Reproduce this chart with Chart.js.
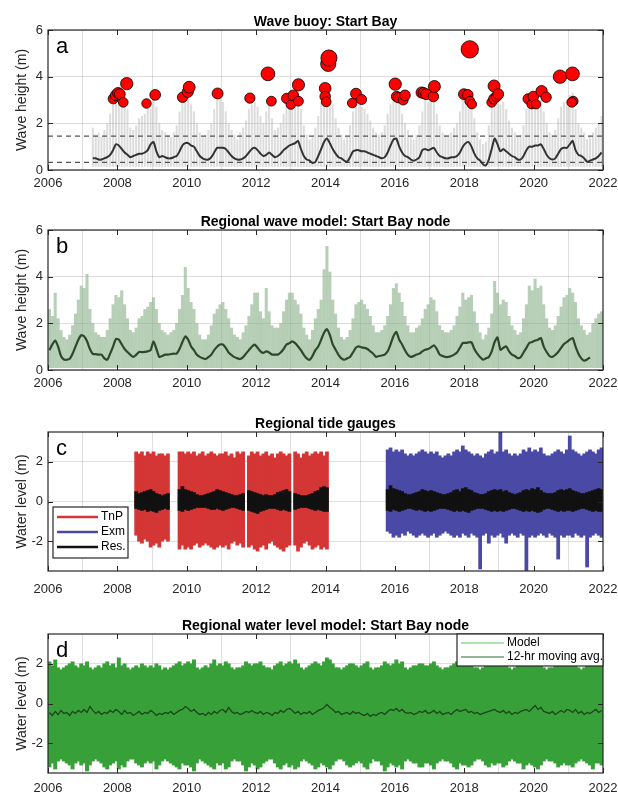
<!DOCTYPE html>
<html>
<head>
<meta charset="utf-8">
<script src="https://cdn.jsdelivr.net/npm/chart.js@4.4.1/dist/chart.umd.min.js"></script>
<style>
  body { margin: 0; background: #fff; width: 618px; height: 794px; position: relative; overflow: hidden; }
  canvas { position: absolute; left: 0; }
</style>
</head>
<body>
<canvas id="pa" width="618" height="195" style="top:0px"></canvas>
<canvas id="pb" width="618" height="195" style="top:200px"></canvas>
<canvas id="pc" width="618" height="200" style="top:400px"></canvas>
<canvas id="pd" width="618" height="194" style="top:600px"></canvas>
<script>
// tick labels
const yearTicks = [2006, 2008, 2010, 2012, 2014, 2016, 2018, 2020, 2022];
const waveTicks = [0, 2, 4, 6];
const levelTicks = [-2, 0, 2];

// ---- a: wave buoy (monthly, from Apr 2007) ----
const buoyStart = 2007 + 3 / 12;
const buoyFloor = 0.15;
const buoyMax = [
  1.8,1.5,1.6,1.4,1.7,2.0,2.4,2.8,3.1,
  3.2,2.9,3.0,2.6,1.8,1.7,1.9,2.2,2.3,2.4,2.7,2.6,
  3.1,2.7,2.0,1.7,1.6,1.5,1.4,1.6,1.9,2.5,2.9,3.2,
  3.4,2.8,2.5,2.0,1.6,1.4,1.5,1.7,2.0,2.6,3.0,3.2,
  2.9,2.5,2.0,1.7,1.5,1.3,1.6,1.8,2.1,2.6,2.8,2.9,
  2.7,2.3,2.0,2.5,2.8,2.2,1.7,1.8,2.0,2.4,2.9,3.0,
  3.0,3.2,3.4,2.6,1.9,1.5,1.3,1.4,1.8,2.3,2.9,3.3,
  3.4,3.3,2.8,2.2,1.8,1.5,1.3,1.4,1.9,2.5,2.8,2.8,
  2.7,2.6,2.4,2.1,1.8,1.6,1.5,1.6,1.9,2.4,2.8,3.2,
  3.3,2.9,2.4,2.0,1.7,1.4,1.3,1.5,1.9,2.5,3.0,2.9,
  3.1,3.0,2.4,1.9,1.6,1.5,1.5,1.6,1.8,2.0,2.5,3.0,
  3.2,3.3,2.9,2.2,1.6,1.3,1.1,1.2,1.9,2.7,3.2,3.1,
  2.8,2.9,2.6,2.1,1.8,1.6,1.4,1.5,1.9,2.6,2.9,3.0,
  3.1,3.2,3.0,2.5,2.0,1.6,1.5,1.7,2.2,2.7,2.9,3.0,
  3.2,3.3,2.6,2.0,1.8,1.6,1.3,1.4,1.6,1.8,2.0,2.3
];
const buoyAvg = [
  0.5,0.5,0.45,0.45,0.5,0.55,0.65,0.85,1.1,
  1.05,0.9,0.75,0.65,0.55,0.6,0.65,0.7,0.7,0.75,0.85,1.1,
  1.2,0.8,0.55,0.6,0.55,0.5,0.5,0.55,0.6,0.8,1.05,1.15,
  1.15,1.05,1.0,0.8,0.6,0.5,0.45,0.45,0.55,0.75,0.95,0.95,
  0.95,0.9,0.75,0.6,0.5,0.45,0.45,0.5,0.6,0.75,0.9,0.95,
  0.85,0.7,0.6,0.65,0.75,0.65,0.55,0.6,0.7,0.85,0.95,1.05,
  1.1,1.15,1.25,0.9,0.6,0.45,0.4,0.3,0.35,0.6,0.9,1.2,
  1.35,1.15,0.9,0.7,0.55,0.5,0.4,0.35,0.55,0.8,0.85,0.85,
  0.8,0.8,0.75,0.7,0.65,0.6,0.55,0.5,0.55,0.75,1.05,1.3,
  1.35,1.0,0.75,0.6,0.55,0.45,0.4,0.45,0.55,0.85,0.9,0.85,
  0.9,0.95,0.75,0.6,0.55,0.5,0.5,0.55,0.55,0.6,0.75,1.0,
  1.15,1.2,1.0,0.7,0.5,0.4,0.25,0.2,0.45,0.9,1.35,1.1,
  0.8,0.9,0.8,0.7,0.6,0.55,0.45,0.45,0.6,0.85,1.0,1.0,
  1.05,1.05,1.1,0.9,0.65,0.5,0.45,0.5,0.7,0.9,0.95,0.95,
  1.1,1.25,0.85,0.65,0.6,0.5,0.35,0.4,0.45,0.5,0.6,0.75
];
const buoyLimits = [1.45, 0.33];
const stormYear = [2007.88,2007.95,2008.02,2008.07,2008.17,2008.27,2008.84,2009.09,2009.88,2010.03,
  2010.07,2010.89,2011.82,2012.34,2012.44,2012.88,2013.00,2013.07,2013.22,2013.22,
  2013.99,2013.99,2014.02,2014.08,2014.10,2014.77,2014.88,2015.04,2016.01,2016.05,
  2016.10,2016.24,2016.29,2016.77,2016.83,2016.90,2017.11,2017.14,2017.99,2018.10,
  2018.16,2018.22,2018.16,2018.79,2018.85,2018.86,2018.93,2018.98,2019.84,2019.94,
  2019.99,2020.07,2020.23,2020.36,2020.76,2021.12,2021.14,2021.10];
const stormHs = [3.05,3.2,3.3,3.25,2.9,3.7,2.85,3.22,3.12,3.35,
  3.55,3.28,3.08,4.12,2.95,3.07,2.8,3.2,3.65,2.95,
  3.5,3.15,2.92,4.55,4.8,2.87,3.27,3.02,3.68,3.15,
  3.1,3.0,3.2,3.32,3.3,3.25,3.15,3.58,3.25,3.22,
  2.95,2.82,5.17,2.9,3.05,3.6,3.15,3.25,3.05,2.82,
  3.15,2.82,3.38,3.12,4.0,4.12,2.95,2.9];

// ---- b: regional wave model (monthly, from Jan 2006) ----
const modelStart = 2006;
const waveFloor = 0.1;
const waveMax = [
  2.6,2.3,3.3,2.2,1.7,1.4,1.3,1.5,1.9,2.4,3.0,3.6,
  3.5,4.1,2.6,2.0,1.6,1.5,1.4,1.4,1.7,2.2,2.8,3.2,
  3.1,3.4,2.8,2.2,1.7,1.6,1.8,2.2,2.3,2.6,2.7,2.9,
  3.1,2.6,2.0,1.7,1.6,1.5,1.6,1.7,2.0,2.6,3.2,4.4,
  3.5,2.9,2.6,2.0,1.5,1.3,1.3,1.5,1.9,2.4,2.6,2.8,
  2.9,2.6,2.2,1.8,1.5,1.4,1.3,1.6,1.9,2.3,2.8,3.3,
  3.3,2.5,2.2,3.5,2.5,1.9,1.8,1.8,2.0,2.5,3.0,3.3,
  3.3,3.0,2.8,2.4,1.8,1.5,1.3,1.7,2.2,2.6,3.0,4.3,
  5.3,4.2,3.0,2.4,1.8,1.4,1.3,1.4,1.7,2.2,2.8,2.9,
  3.0,2.8,2.6,2.3,1.9,1.6,1.6,1.7,1.9,2.3,2.8,3.5,
  3.7,3.3,2.9,2.3,1.9,1.6,1.6,1.8,1.9,2.2,2.6,2.8,
  3.1,3.0,2.5,1.9,1.7,1.6,1.6,1.7,1.9,2.3,2.7,3.3,
  3.0,3.1,3.2,2.5,2.0,1.6,1.3,1.5,1.8,2.4,3.8,3.3,
  2.8,3.0,2.9,2.3,1.9,1.7,1.5,1.6,2.2,2.8,3.6,3.4,
  3.9,3.5,3.6,2.8,2.2,1.8,1.7,1.9,2.3,2.7,3.1,3.2,
  3.5,3.3,2.9,2.2,1.9,1.7,1.5,1.6,2.0,2.2,2.4,2.5
];
const waveAvg = [
  0.85,1.1,1.26,1.0,0.6,0.45,0.44,0.48,0.7,1.0,1.3,1.49,
  1.45,1.23,0.9,0.69,0.68,0.66,0.66,0.5,0.44,0.7,1.0,1.33,
  1.3,1.1,0.9,0.77,0.65,0.56,0.65,0.77,0.77,0.78,0.8,0.85,
  1.23,0.9,0.56,0.6,0.66,0.66,0.68,0.7,0.7,0.9,1.2,1.44,
  1.3,1.01,0.85,0.65,0.56,0.5,0.47,0.55,0.66,0.85,1.0,1.09,
  1.09,0.95,0.75,0.64,0.55,0.5,0.47,0.55,0.7,0.85,1.0,1.09,
  0.95,0.8,0.73,0.8,0.75,0.66,0.66,0.66,0.75,0.9,1.09,1.15,
  1.23,1.15,1.01,0.85,0.65,0.5,0.44,0.6,0.85,1.01,1.3,1.6,
  1.75,1.5,1.1,0.87,0.65,0.5,0.44,0.5,0.56,0.75,0.95,1.01,
  0.97,0.95,0.9,0.8,0.7,0.56,0.6,0.62,0.66,0.8,1.1,1.45,
  1.63,1.3,1.09,0.85,0.65,0.56,0.6,0.66,0.7,0.8,0.87,0.9,
  0.97,1.06,0.9,0.66,0.6,0.56,0.56,0.6,0.66,0.75,0.95,1.16,
  1.16,1.18,1.19,0.9,0.7,0.55,0.44,0.5,0.56,0.8,1.2,1.4,
  0.87,0.95,1.01,0.8,0.66,0.6,0.51,0.55,0.75,0.95,1.16,1.2,
  1.26,1.3,1.37,1.0,0.77,0.6,0.56,0.65,0.77,0.95,1.11,1.2,
  1.3,1.37,1.0,0.7,0.5,0.4,0.45,0.54
];

// ---- c: tide gauges (monthly) ----
const tnpStart = 2008 + 6 / 12;   // Jul 2008
const tnpHi = [
  2.5,2.4,2.5,2.3,2.5,2.4,
  2.5,2.3,2.4,2.4,2.3,2.4,null,null,null,2.5,2.5,2.4,
  2.5,2.4,2.5,2.3,2.4,2.5,2.3,2.4,2.5,2.4,2.3,2.4,
  2.4,2.5,2.3,2.4,2.2,2.5,2.4,2.5,null,2.3,2.5,2.4,
  2.5,2.3,2.4,2.5,2.3,2.4,2.2,2.4,2.5,2.4,2.3,2.4,
  null,2.5,2.4,2.2,2.4,2.5,2.3,2.4,2.5,2.4,2.5,2.3,
  2.5
];
const tnpLo = [
  -1.7,-2.0,-2.1,-1.9,-2.0,-2.3,
  -2.2,-2.1,-2.3,-2.0,-1.9,-2.0,null,null,null,-2.4,-2.2,-2.4,
  -2.3,-2.4,-2.2,-2.1,-2.3,-2.2,-2.1,-2.2,-2.3,-2.4,-2.3,-2.2,
  -2.3,-2.2,-2.4,-2.1,-2.0,-2.2,-2.1,-2.3,null,-2.3,-2.2,-2.4,
  -2.5,-2.3,-2.2,-2.4,-2.1,-2.0,-2.2,-2.3,-2.4,-2.5,-2.3,-2.2,
  null,-2.2,-2.5,-2.3,-2.1,-2.0,-2.2,-2.4,-2.3,-2.2,-2.4,-2.3,
  -2.4
];
const tnpResHi = [
  0.5,0.4,0.45,0.5,0.55,0.6,
  0.5,0.4,0.35,0.3,0.35,0.4,null,null,null,0.6,0.75,0.6,
  0.55,0.5,0.45,0.35,0.3,0.3,0.35,0.4,0.45,0.5,0.6,0.55,
  0.5,0.45,0.4,0.35,0.3,0.3,0.35,0.4,null,0.55,0.5,0.45,
  0.4,0.35,0.3,0.35,0.3,0.3,0.35,0.45,0.5,0.55,0.6,0.5,
  null,0.4,0.35,0.3,0.3,0.3,0.35,0.4,0.5,0.55,0.7,0.75,
  0.7
];
const tnpResLo = [
  -0.35,-0.4,-0.45,-0.4,-0.5,-0.45,
  -0.5,-0.55,-0.45,-0.4,-0.35,-0.4,null,null,null,-0.45,-0.5,-0.4,
  -0.45,-0.4,-0.35,-0.3,-0.3,-0.3,-0.3,-0.35,-0.4,-0.4,-0.35,-0.4,
  -0.45,-0.4,-0.35,-0.3,-0.3,-0.35,-0.4,-0.45,null,-0.45,-0.5,-0.55,
  -0.6,-0.5,-0.45,-0.4,-0.35,-0.35,-0.35,-0.4,-0.45,-0.4,-0.45,-0.5,
  null,-0.4,-0.35,-0.3,-0.3,-0.3,-0.35,-0.4,-0.45,-0.4,-0.45,-0.5,
  -0.5
];
const exmStart = 2015 + 9 / 12;   // Oct 2015
const exmHi = [
  2.6,2.7,2.5,
  2.6,2.5,2.6,2.4,2.3,2.4,2.3,2.4,2.5,2.6,2.5,2.4,
  2.5,2.4,2.5,2.3,2.2,2.3,2.4,2.3,2.5,2.6,2.5,2.8,
  2.6,2.5,2.4,2.3,2.4,2.3,2.2,2.4,2.5,2.6,2.4,2.5,
  3.5,2.5,2.6,2.4,2.3,2.4,2.3,2.4,2.6,2.5,2.7,2.5,
  2.6,2.5,2.7,2.4,2.3,2.3,2.4,2.5,2.6,2.5,2.4,2.6,
  3.3,2.6,2.5,2.4,2.3,2.4,2.5,2.6,2.5,2.4,2.6,2.7
];
const exmLo = [
  -1.5,-1.6,-1.8,
  -1.7,-1.8,-1.6,-1.7,-1.5,-1.6,-1.7,-1.8,-1.7,-1.6,-1.7,-1.8,
  -1.7,-1.6,-1.8,-1.7,-1.6,-1.5,-1.6,-1.7,-1.8,-1.7,-1.8,-1.6,
  -1.7,-1.8,-1.6,-1.7,-1.8,-3.4,-1.7,-1.6,-2.1,-1.7,-1.8,-1.7,
  -1.6,-1.8,-2.1,-1.7,-1.6,-1.7,-1.8,-1.6,-1.7,-3.5,-1.8,-1.7,
  -1.8,-1.7,-1.6,-1.7,-1.8,-1.6,-1.7,-1.8,-2.9,-1.7,-1.8,-1.7,
  -1.7,-1.8,-1.6,-1.7,-1.8,-1.7,-3.3,-1.8,-1.7,-1.6,-1.7,-1.8
];
const exmResHi = [
  0.6,0.8,0.65,
  0.6,0.55,0.5,0.4,0.35,0.35,0.4,0.45,0.5,0.6,0.55,0.5,
  0.55,0.5,0.45,0.4,0.35,0.35,0.4,0.45,0.55,0.6,0.5,0.65,
  0.7,0.6,0.55,0.45,0.4,0.35,0.35,0.4,0.5,0.55,0.6,0.55,
  0.6,0.5,0.55,0.45,0.4,0.35,0.4,0.45,0.55,0.6,0.55,0.65,
  0.6,0.7,0.55,0.45,0.4,0.4,0.4,0.45,0.55,0.6,0.55,0.6,
  0.65,0.55,0.5,0.45,0.4,0.4,0.45,0.5,0.55,0.6,0.65,0.6
];
const exmResLo = [
  -0.45,-0.5,-0.4,
  -0.45,-0.5,-0.45,-0.4,-0.35,-0.35,-0.4,-0.45,-0.4,-0.45,-0.5,-0.45,
  -0.5,-0.45,-0.4,-0.35,-0.35,-0.35,-0.4,-0.45,-0.5,-0.45,-0.5,-0.45,
  -0.5,-0.55,-0.45,-0.4,-0.35,-0.35,-0.35,-0.4,-0.45,-0.5,-0.45,-0.5,
  -0.45,-0.5,-0.45,-0.4,-0.35,-0.35,-0.4,-0.45,-0.5,-0.45,-0.5,-0.45,
  -0.5,-0.55,-0.5,-0.4,-0.35,-0.35,-0.4,-0.45,-0.5,-0.45,-0.5,-0.45,
  -0.45,-0.5,-0.45,-0.4,-0.35,-0.35,-0.4,-0.45,-0.5,-0.45,-0.5,-0.5
];

// ---- d: regional water level model (monthly, from Jan 2006) ----
const levelHi = [
  2.1,1.9,2.2,1.8,1.7,1.8,1.9,2.0,2.1,1.9,1.8,2.0,
  1.9,2.1,1.8,1.7,1.8,1.9,1.8,2.0,2.1,1.9,2.0,1.8,
  2.3,1.9,2.0,1.8,1.7,1.8,1.9,1.8,2.0,1.9,1.8,1.9,
  1.8,2.0,1.9,1.7,1.8,1.7,1.8,1.9,2.0,2.1,1.9,2.0,
  2.1,2.0,2.2,1.8,1.7,1.8,1.9,1.8,2.0,2.2,1.9,2.0,
  1.9,2.1,2.0,1.8,1.7,1.8,1.8,1.9,2.1,2.0,1.9,2.0,
  2.0,2.1,1.9,1.8,1.8,1.7,1.9,2.0,2.1,1.9,2.0,2.1,
  2.0,2.2,2.0,1.8,1.7,1.8,1.9,2.0,2.1,2.0,1.9,2.1,
  2.3,2.2,2.0,1.8,1.8,1.7,1.8,1.9,2.0,2.0,1.9,1.8,
  1.9,2.0,2.1,1.8,1.7,1.8,1.8,1.9,2.1,2.0,1.9,2.0,
  2.2,2.0,2.1,1.8,1.7,1.8,1.9,1.9,2.0,2.0,1.9,1.9,
  2.0,2.1,1.9,1.8,1.7,1.8,1.8,1.9,2.0,2.1,1.9,2.0,
  2.0,2.1,2.0,1.8,1.8,1.7,1.8,1.9,2.0,1.9,2.0,1.9,
  1.9,2.1,2.0,1.8,1.7,1.8,1.9,1.9,2.1,2.0,1.9,2.0,
  2.1,2.2,2.0,1.8,1.7,1.8,1.8,1.9,2.0,2.0,1.9,2.0,
  2.0,2.1,1.9,1.8,1.7,1.8,1.9,2.0,2.1,1.9,1.9,2.0
];
const levelLo = [
  -3.2,-3.0,-3.3,-2.9,-2.8,-2.9,-3.0,-3.1,-3.3,-3.0,-2.9,-3.1,
  -3.0,-3.4,-3.1,-2.9,-2.8,-2.9,-3.0,-3.2,-3.3,-3.1,-3.0,-2.9,
  -3.3,-3.1,-3.2,-2.9,-2.8,-2.8,-3.0,-3.1,-3.2,-3.0,-2.9,-3.0,
  -2.9,-3.3,-3.1,-2.9,-2.8,-2.9,-3.0,-3.1,-3.2,-3.3,-3.0,-3.1,
  -3.1,-3.2,-3.4,-3.0,-2.8,-2.9,-3.0,-3.1,-3.2,-3.3,-3.0,-3.1,
  -3.0,-3.3,-3.2,-2.9,-2.8,-2.9,-2.9,-3.1,-3.4,-3.2,-3.0,-3.1,
  -3.3,-3.2,-3.0,-2.9,-2.8,-2.8,-3.0,-3.2,-3.3,-3.1,-3.0,-3.2,
  -3.1,-3.3,-3.2,-2.9,-2.8,-2.9,-3.0,-3.1,-3.3,-3.2,-3.0,-3.1,
  -3.2,-3.3,-3.1,-2.9,-2.8,-2.8,-2.9,-3.1,-3.2,-3.1,-3.0,-2.9,
  -3.0,-3.2,-3.3,-3.0,-2.8,-2.9,-2.9,-3.1,-3.4,-3.2,-3.0,-3.1,
  -3.2,-3.1,-3.3,-2.9,-2.8,-2.9,-3.0,-3.0,-3.2,-3.2,-3.0,-3.0,
  -3.1,-3.3,-3.0,-2.9,-2.8,-2.9,-2.9,-3.0,-3.2,-3.3,-3.0,-3.1,
  -3.1,-3.2,-3.1,-2.9,-2.8,-2.8,-2.9,-3.1,-3.2,-3.0,-3.1,-3.0,
  -3.0,-3.2,-3.1,-2.9,-2.8,-2.9,-3.0,-3.0,-3.3,-3.1,-3.0,-3.1,
  -3.2,-3.3,-3.1,-2.9,-2.8,-2.9,-2.9,-3.0,-3.2,-3.1,-3.0,-3.1,
  -3.1,-3.2,-3.0,-2.9,-2.8,-2.9,-3.0,-3.1,-3.3,-3.0,-3.0,-3.1
];
const levelAvg = [
  -0.45,-0.6,-0.4,-0.55,-0.35,-0.5,-0.45,-0.6,-0.4,-0.5,-0.35,-0.45,
  -0.3,-0.45,-0.15,-0.35,-0.5,-0.4,-0.55,-0.45,-0.5,-0.35,-0.45,-0.3,
  -0.4,-0.55,-0.35,-0.5,-0.45,-0.6,-0.5,-0.4,-0.55,-0.45,-0.5,-0.35,
  -0.45,-0.6,-0.5,-0.55,-0.45,-0.5,-0.4,-0.55,-0.45,-0.35,-0.3,-0.15,
  -0.25,-0.4,-0.3,-0.45,-0.55,-0.5,-0.6,-0.45,-0.55,-0.4,-0.5,-0.35,
  -0.3,-0.45,-0.2,-0.4,-0.5,-0.45,-0.55,-0.5,-0.4,-0.45,-0.35,-0.45,
  -0.5,-0.4,-0.55,-0.45,-0.5,-0.6,-0.45,-0.5,-0.35,-0.45,-0.3,-0.25,
  -0.35,-0.5,-0.4,-0.55,-0.45,-0.5,-0.4,-0.55,-0.45,-0.35,-0.3,-0.2,
  -0.05,-0.2,-0.3,-0.45,-0.4,-0.55,-0.5,-0.45,-0.55,-0.4,-0.5,-0.45,
  -0.55,-0.6,-0.5,-0.65,-0.55,-0.6,-0.5,-0.45,-0.55,-0.4,-0.3,-0.35,
  -0.25,-0.4,-0.3,-0.45,-0.5,-0.45,-0.55,-0.5,-0.4,-0.45,-0.35,-0.5,
  -0.45,-0.35,-0.5,-0.4,-0.55,-0.5,-0.45,-0.55,-0.4,-0.3,-0.4,-0.35,
  -0.3,-0.45,-0.4,-0.5,-0.45,-0.55,-0.5,-0.45,-0.4,-0.35,-0.3,-0.4,
  -0.45,-0.35,-0.5,-0.4,-0.55,-0.45,-0.5,-0.4,-0.35,-0.3,-0.4,-0.25,
  -0.1,-0.3,-0.2,-0.4,-0.45,-0.5,-0.4,-0.55,-0.45,-0.35,-0.45,-0.3,
  -0.35,-0.45,-0.3,-0.5,-0.4,-0.55,-0.45,-0.5,-0.4,-0.3,-0.45,-0.35
];

// helpers: month i of a series sits at mid-month
function pts(start, vals) {
  const out = [];
  vals.forEach((v, i) => { if (v != null) out.push({ x: start + (i + 0.5) / 12, y: v }); });
  return out;
}
function spans(start, lo, hi) {
  const out = [];
  hi.forEach((v, i) => {
    if (v == null) return;
    const l = Array.isArray(lo) ? lo[i] : lo;
    out.push({ x: start + (i + 0.5) / 12, y: [l, v] });
  });
  return out;
}

const FONT = "'Liberation Sans', Arial, Helvetica, sans-serif";
const INK = '#262626';
Chart.defaults.font.family = FONT;
Chart.defaults.color = INK;
Chart.defaults.animation = false;

// box, inner ticks, title, panel letter, legend
const deco = {
  id: 'deco',
  afterDraw(chart, args, o) {
    const { ctx, chartArea: a, scales } = chart;
    ctx.save();
    ctx.strokeStyle = INK;
    ctx.lineWidth = 1;
    ctx.beginPath();
    yearTicks.forEach(v => {
      const px = Math.round(scales.x.getPixelForValue(v)) + 0.5;
      ctx.moveTo(px, a.bottom); ctx.lineTo(px, a.bottom - 5);
      ctx.moveTo(px, a.top); ctx.lineTo(px, a.top + 5);
    });
    o.yticks.forEach(v => {
      const py = Math.round(scales.y.getPixelForValue(v)) + 0.5;
      ctx.moveTo(a.left, py); ctx.lineTo(a.left + 5, py);
      ctx.moveTo(a.right, py); ctx.lineTo(a.right - 5, py);
    });
    ctx.stroke();
    ctx.lineWidth = 1.2;
    ctx.strokeRect(a.left, a.top, a.right - a.left, a.bottom - a.top);

    ctx.fillStyle = '#000';
    ctx.font = 'bold 14px ' + FONT;
    ctx.textAlign = 'center';
    ctx.textBaseline = 'alphabetic';
    ctx.fillText(o.title, (a.left + a.right) / 2, a.top - 4);
    ctx.font = '22px ' + FONT;
    ctx.textAlign = 'left';
    ctx.fillText(o.letter, a.left + 8, a.top + 23);

    if (o.legend) {
      const L = o.legend;
      const bx = L.right ? a.right - L.w : a.left + L.x;
      const by = a.top + L.y;
      ctx.fillStyle = '#fff';
      ctx.fillRect(bx, by, L.w, L.h);
      ctx.strokeStyle = INK;
      ctx.lineWidth = 1.2;
      ctx.strokeRect(bx, by, L.w, L.h);
      ctx.font = '12px ' + FONT;
      ctx.textBaseline = 'middle';
      L.items.forEach((it, i) => {
        const yy = by + L.first + i * L.gap;
        ctx.strokeStyle = it.color;
        ctx.lineWidth = L.lw;
        ctx.beginPath();
        ctx.moveTo(bx + 4, yy); ctx.lineTo(bx + 4 + L.line, yy);
        ctx.stroke();
        ctx.fillStyle = '#000';
        ctx.fillText(it.label, bx + 7 + L.line, yy);
      });
    }
    ctx.restore();
  }
};

function scalesFor(cfg) {
  return {
    x: {
      type: 'linear', min: 2006, max: 2022, offset: false,
      afterBuildTicks: s => { s.ticks = yearTicks.map(v => ({ value: v })); },
      afterFit: s => { s.height = cfg.xh; s.paddingLeft = 0; s.paddingRight = 0; },
      grid: { color: 'rgba(0,0,0,0.13)', drawTicks: false },
      border: { display: false },
      ticks: { font: { size: 13 }, padding: cfg.xpad, maxRotation: 0, autoSkip: false, callback: v => String(v) }
    },
    y: {
      min: cfg.ymin, max: cfg.ymax,
      afterBuildTicks: s => { s.ticks = cfg.yticks.map(v => ({ value: v })); },
      afterFit: s => { s.width = 34; s.paddingTop = 0; s.paddingBottom = 0; },
      grid: { color: 'rgba(0,0,0,0.13)', drawTicks: false },
      border: { display: false },
      ticks: { font: { size: 13 }, padding: 5, callback: v => String(v) },
      title: { display: true, text: cfg.ytitle, font: { size: 14 }, padding: { top: 0, bottom: 0 }, color: INK }
    }
  };
}

function panel(id, cfg, datasets) {
  return new Chart(document.getElementById(id), {
    type: 'bar',
    data: { datasets },
    options: {
      responsive: false,
      devicePixelRatio: 1,
      layout: { padding: { left: 14, right: 15, top: cfg.top, bottom: 0 } },
      scales: scalesFor(cfg),
      plugins: {
        legend: { display: false },
        tooltip: { enabled: false },
        deco: { title: cfg.title, letter: cfg.letter, yticks: cfg.yticks, legend: cfg.legend }
      }
    },
    plugins: [deco]
  });
}

// a
panel('pa', { top: 30, xh: 25, xpad: 6, ymin: 0, ymax: 6, yticks: waveTicks, ytitle: 'Wave height (m)',
  title: 'Wave buoy: Start Bay', letter: 'a' }, [
  { type: 'scatter', label: 'Storm events', data: stormYear.map((x, i) => ({ x, y: stormHs[i] })),
    backgroundColor: '#ff0000', borderColor: '#000', borderWidth: 0.8,
    pointRadius: c => 1.7 * c.raw.y - 0.1, order: 0 },
  { type: 'line', label: 'Moving avg.', data: pts(buoyStart, buoyAvg), borderColor: '#333',
    borderWidth: 2, pointRadius: 0, tension: 0.2, order: 1 },
  { type: 'line', label: 'Upper', data: [{ x: 2006, y: buoyLimits[0] }, { x: 2022, y: buoyLimits[0] }],
    borderColor: '#555', borderWidth: 1.2, borderDash: [5, 4], pointRadius: 0, order: 2 },
  { type: 'line', label: 'Lower', data: [{ x: 2006, y: buoyLimits[1] }, { x: 2022, y: buoyLimits[1] }],
    borderColor: '#555', borderWidth: 1.2, borderDash: [5, 4], pointRadius: 0, order: 2 },
  { label: 'Buoy', data: spans(buoyStart, buoyFloor, buoyMax), backgroundColor: 'rgba(150,150,150,0.32)',
    barThickness: 1.4, grouped: false, order: 3 }
]);

// b
panel('pb', { top: 30, xh: 25, xpad: 6, ymin: 0, ymax: 6, yticks: waveTicks, ytitle: 'Wave height (m)',
  title: 'Regional wave model: Start Bay node', letter: 'b' }, [
  { type: 'line', label: 'Moving avg.', data: pts(modelStart, waveAvg), borderColor: '#2b4a2b',
    borderWidth: 2.2, pointRadius: 0, tension: 0.2, order: 0 },
  { label: 'Model', data: spans(modelStart, waveFloor, waveMax), backgroundColor: 'rgba(135,175,135,0.6)',
    barThickness: 2.4, grouped: false, order: 1 }
]);

// c
panel('pc', { top: 32, xh: 29, xpad: 11, ymin: -3.5, ymax: 3.5, yticks: levelTicks, ytitle: 'Water level (m)',
  title: 'Regional tide gauges', letter: 'c',
  legend: { x: 5, y: 75, w: 75, h: 51, first: 10, gap: 15, line: 41, lw: 2.5,
    items: [{ label: 'TnP', color: '#d43535' }, { label: 'Exm', color: '#4a4aa6' }, { label: 'Res.', color: '#111' }] } }, [
  { label: 'Res.', data: spans(tnpStart, tnpResLo, tnpResHi), backgroundColor: '#111',
    barThickness: 3.1, grouped: false, order: 0 },
  { label: 'Res.', data: spans(exmStart, exmResLo, exmResHi), backgroundColor: '#111',
    barThickness: 3.1, grouped: false, order: 0 },
  { label: 'TnP', data: spans(tnpStart, tnpLo, tnpHi), backgroundColor: '#d43535',
    barThickness: 3.1, grouped: false, order: 1 },
  { label: 'Exm', data: spans(exmStart, exmLo, exmHi), backgroundColor: '#4a4aa6',
    barThickness: 3.1, grouped: false, order: 1 }
]);

// d
panel('pd', { top: 34, xh: 21, xpad: 8, ymin: -3.5, ymax: 3.5, yticks: levelTicks, ytitle: 'Water level (m)',
  title: 'Regional water level model: Start Bay node', letter: 'd',
  legend: { right: true, y: 0, w: 146, h: 32, first: 9, gap: 14, line: 43, lw: 1.2,
    items: [{ label: 'Model', color: '#5cc85c' }, { label: '12-hr moving avg.', color: '#2f6b2f' }] } }, [
  { type: 'line', label: '12-hr moving avg.', data: pts(modelStart, levelAvg), borderColor: '#1d451d',
    borderWidth: 1.3, pointRadius: 0, order: 0 },
  { label: 'Model', data: spans(modelStart, levelLo, levelHi), backgroundColor: '#38a038',
    barThickness: 3.3, grouped: false, order: 1 }
]);
</script>
</body>
</html>
